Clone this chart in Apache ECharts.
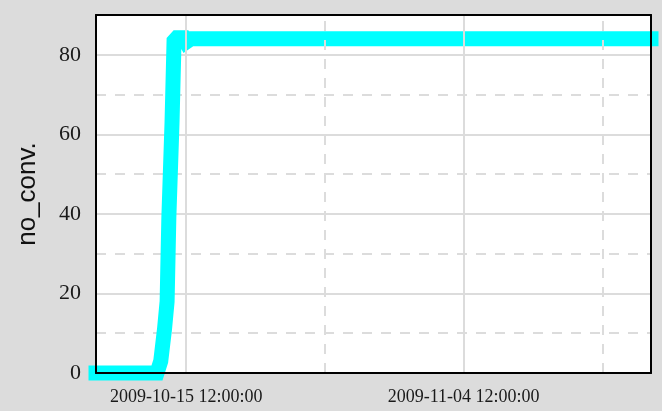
<!DOCTYPE html>
<html><head><meta charset="utf-8">
<script src="https://cdn.jsdelivr.net/npm/echarts@6/dist/echarts.min.js"></script>
<style>html,body{margin:0;padding:0;background:#dcdcdc}#c{width:662px;height:411px}</style>
</head><body><div id="c"></div>
<script>
// ---- data ----
const times = [
  '2009-10-09 00:00','2009-10-13 09:30','2009-10-13 16:00','2009-10-13 22:30',
  '2009-10-14 03:00','2009-10-14 06:00','2009-10-14 11:30','2009-10-14 15:00',
  '2009-10-14 20:00','2009-10-15 08:00','2009-10-15 12:00','2009-10-15 20:00',
  '2009-10-25 00:00','2009-11-05 00:00','2009-11-18 00:00'
];
const values = [0, 0, 3, 11, 18, 39, 63, 83.5, 84.3, 84.3, 83.2, 84, 84, 84, 84];
const xRange = ['2009-10-09 00:00', '2009-11-18 00:00'];
const xLabelTimes = ['2009-10-15 12:00', '2009-11-04 12:00'];
const xSolidGrid = ['2009-10-15 12:00', '2009-11-04 12:00'];
const xDashedGrid = ['2009-10-25 12:00', '2009-11-14 12:00'];
const yRange = [0, 90];
const yLabelStep = 20;
const yMinorStep = 10;
const yName = 'no_conv.';

function ts(s){
  const [d,t] = s.split(' ');
  const [Y,M,D] = d.split('-').map(Number);
  const [h,m] = t.split(':').map(Number);
  return Date.UTC(Y, M-1, D, h, m);
}
function fmt(v){
  const d = new Date(v); const p = n => String(n).padStart(2,'0');
  return d.getUTCFullYear()+'-'+p(d.getUTCMonth()+1)+'-'+p(d.getUTCDate())+' '+
    p(d.getUTCHours())+':'+p(d.getUTCMinutes())+':'+p(d.getUTCSeconds());
}

const gridColor = '#dcdcdc';
const serif = 'Liberation Serif';
const xmin = ts(xRange[0]), xmax = ts(xRange[1]);

const chart = echarts.init(document.getElementById('c'), null, {renderer:'canvas'});
const hiddenY = (extra) => Object.assign({
  type:'value', min:yRange[0], max:yRange[1], position:'left',
  axisLine:{show:false}, axisTick:{show:false}, axisLabel:{show:false}
}, extra);

chart.setOption({
  animation:false,
  backgroundColor:'#dcdcdc',
  grid:{left:96, right:11, top:15, bottom:38, show:true, backgroundColor:'#ffffff', borderWidth:0},
  xAxis:[
    {type:'value', min:xmin, max:xmax, position:'bottom', z:10,
     axisLine:{show:true, onZero:false, lineStyle:{color:'#000', width:2}},
     axisTick:{show:false}, splitLine:{show:false},
     axisLabel:{customValues:xLabelTimes.map(ts), formatter:fmt, fontFamily:serif, fontSize:18, color:'#1a1a1a', margin:15}},
    {type:'value', min:xmin, max:xmax, position:'top', z:10,
     axisLine:{show:true, onZero:false, lineStyle:{color:'#000', width:2}},
     axisTick:{show:false}, axisLabel:{show:false}, splitLine:{show:false}}
  ],
  yAxis:[
    {type:'value', min:yRange[0], max:yRange[1], interval:yLabelStep, position:'left', z:10,
     name:yName, nameLocation:'middle', nameGap:55,
     nameTextStyle:{fontFamily:'Liberation Sans', fontSize:26, color:'#111'},
     axisLine:{show:true, onZero:false, lineStyle:{color:'#000', width:2}},
     axisTick:{show:false}, splitLine:{show:false},
     axisLabel:{fontFamily:serif, fontSize:22, color:'#1a1a1a', margin:15, showMaxLabel:false}},
    hiddenY({interval:yMinorStep, splitLine:{show:true, lineStyle:{color:gridColor, width:2, type:[10,9]}}}),
    hiddenY({interval:yLabelStep, splitLine:{show:true, lineStyle:{color:gridColor, width:2, type:'solid'}}}),
    {type:'value', min:yRange[0], max:yRange[1], position:'right', z:10,
     axisLine:{show:true, onZero:false, lineStyle:{color:'#000', width:2}},
     axisTick:{show:false}, axisLabel:{show:false}, splitLine:{show:false}}
  ],
  series:[{
    type:'line', xAxisIndex:0, yAxisIndex:0, clip:false,
    data: times.map((t,i)=>[ts(t), values[i]]),
    showSymbol:false, symbol:'none',
    lineStyle:{color:'#00ffff', width:15, cap:'square', join:'miter'},
    markLine:{
      silent:true, symbol:'none', label:{show:false},
      data:[
        ...xSolidGrid.map(t=>({xAxis:ts(t), lineStyle:{color:gridColor, width:2, type:'solid'}})),
        ...xDashedGrid.map(t=>({xAxis:ts(t), lineStyle:{color:gridColor, width:2, type:[10,9]}}))
      ]
    }
  }]
});
</script></body></html>
